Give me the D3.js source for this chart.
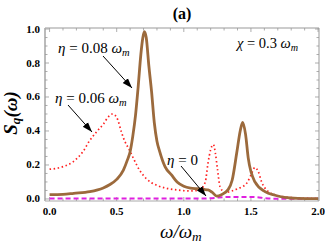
<!DOCTYPE html>
<html>
<head>
<meta charset="utf-8">
<script src="https://cdn.jsdelivr.net/npm/d3@7"></script>
</head>
<body style="margin:0; background:#fff">
<svg id="chart" width="325" height="243"></svg>
<script>
// omega / omega_m sample points and S_q values
var omegaB = [0, 0.1, 0.18, 0.3, 0.4, 0.45, 0.5, 0.55, 0.58, 0.6, 0.62, 0.64, 0.66, 0.68, 0.695, 0.706, 0.72, 0.74, 0.76, 0.78, 0.8, 0.82, 0.86, 0.91, 0.95, 1.0, 1.05, 1.1, 1.15, 1.18, 1.21, 1.245, 1.28, 1.33, 1.36, 1.394, 1.42, 1.438, 1.46, 1.48, 1.53, 1.605, 1.68, 1.75, 1.85, 2.0];
var sB     = [0.025, 0.027, 0.033, 0.043, 0.065, 0.085, 0.115, 0.17, 0.23, 0.278, 0.37, 0.49, 0.66, 0.85, 0.95, 0.984, 0.95, 0.78, 0.63, 0.45, 0.34, 0.28, 0.19, 0.14, 0.10, 0.075, 0.064, 0.06, 0.056, 0.053, 0.04, 0.017, 0.025, 0.055, 0.11, 0.27, 0.40, 0.45, 0.38, 0.24, 0.10, 0.043, 0.022, 0.01, 0.004, 0.002];

var omegaR = [0, 0.05, 0.1, 0.177, 0.25, 0.3, 0.35, 0.4, 0.44, 0.47, 0.5, 0.537, 0.55, 0.6, 0.624, 0.67, 0.72, 0.8, 0.87, 0.95, 1.05, 1.12, 1.16, 1.18, 1.2, 1.22, 1.235, 1.25, 1.27, 1.307, 1.35, 1.4, 1.468, 1.5, 1.53, 1.555, 1.58, 1.63, 1.7, 1.8, 1.9, 2.0];
var sR     = [0.175, 0.18, 0.19, 0.22, 0.28, 0.345, 0.395, 0.44, 0.485, 0.5, 0.48, 0.39, 0.36, 0.28, 0.24, 0.17, 0.12, 0.08, 0.063, 0.053, 0.047, 0.055, 0.1, 0.21, 0.29, 0.32, 0.27, 0.18, 0.072, 0.037, 0.045, 0.06, 0.092, 0.14, 0.185, 0.16, 0.10, 0.043, 0.02, 0.008, 0.004, 0.002];

var omegaM = [0, 0.5, 1.0, 1.15, 1.2, 1.25, 1.3, 1.4, 1.5, 1.55, 1.6, 1.65, 2.0];
var sM     = [0.002, 0.002, 0.002, 0.002, 0.004, 0.008, 0.011, 0.012, 0.012, 0.01, 0.005, 0.002, 0.001];

var xTicks = [0, 0.5, 1.0, 1.5, 2.0];
var yTicks = [0, 0.2, 0.4, 0.6, 0.8, 1.0];

var serif = "'Liberation Serif'";

var svg = d3.select("#chart");

var x = d3.scaleLinear().domain([-0.034, 2.007]).range([45, 319]);
var y = d3.scaleLinear().domain([-0.012, 1.006]).range([201, 28]);

function zipData(xs, ys) {
  return xs.map(function(d, i) { return { w: d, s: ys[i] }; });
}

var line = d3.line()
  .x(function(d) { return x(d.w); })
  .y(function(d) { return y(d.s); })
  .curve(d3.curveMonotoneX);

// frame
var frame = svg.append("g");
frame.append("line").attr("x1", 45).attr("x2", 319).attr("y1", 28).attr("y2", 28)
  .attr("stroke", "#999").attr("stroke-width", 1);
frame.append("line").attr("x1", 319).attr("x2", 319).attr("y1", 28).attr("y2", 201)
  .attr("stroke", "#999").attr("stroke-width", 1);
frame.append("line").attr("x1", 45).attr("x2", 319).attr("y1", 201).attr("y2", 201)
  .attr("stroke", "#aaa").attr("stroke-width", 1);
frame.append("line").attr("x1", 45).attr("x2", 45).attr("y1", 28).attr("y2", 201)
  .attr("stroke", "#bbb").attr("stroke-width", 2);

// ticks
var xMinor = d3.range(0, 2.001, 0.1);
var yMinor = d3.range(0, 1.001, 0.05);
var tg = svg.append("g").attr("stroke", "#999").attr("stroke-width", 0.8);
xMinor.forEach(function(v) {
  var major = Math.abs(v * 2 - Math.round(v * 2)) < 1e-6;
  var len = major ? 4 : 2.5;
  tg.append("line").attr("x1", x(v)).attr("x2", x(v)).attr("y1", 28).attr("y2", 28 + len);
  tg.append("line").attr("x1", x(v)).attr("x2", x(v)).attr("y1", 201).attr("y2", 201 - len);
});
yMinor.forEach(function(v) {
  var major = Math.abs(v * 5 - Math.round(v * 5)) < 1e-6;
  var len = major ? 4 : 2.5;
  tg.append("line").attr("x1", 45).attr("x2", 45 + len).attr("y1", y(v)).attr("y2", y(v));
  tg.append("line").attr("x1", 319).attr("x2", 319 - len).attr("y1", y(v)).attr("y2", y(v));
});

// tick labels
svg.append("g").selectAll("text").data(xTicks).enter().append("text")
  .attr("font-family", "Liberation Serif").style("font-family", serif)
  .attr("font-weight", "bold").attr("font-size", 11)
  .attr("x", function(d) { return x(d); })
  .attr("y", 215)
  .attr("text-anchor", "middle")
  .text(function(d) { return d.toFixed(1); });

svg.append("g").selectAll("text").data(yTicks).enter().append("text")
  .attr("font-family", "Liberation Serif").style("font-family", serif)
  .attr("font-weight", "bold").attr("font-size", 11)
  .attr("x", 40)
  .attr("y", function(d) { return y(d) + 3.5; })
  .attr("text-anchor", "end")
  .text(function(d) { return d.toFixed(1); });

// curves
svg.append("path").datum(zipData(omegaM, sM))
  .attr("d", line).attr("fill", "none")
  .attr("stroke", "#e020e0").attr("stroke-width", 2).attr("stroke-dasharray", "5,3");

svg.append("path").datum(zipData(omegaR, sR))
  .attr("d", line).attr("fill", "none")
  .attr("stroke", "#ff2020").attr("stroke-width", 1.7).attr("stroke-dasharray", "1.5,2.6");

svg.append("path").datum(zipData(omegaB, sB))
  .attr("d", line).attr("fill", "none")
  .attr("stroke", "#9c6a3c").attr("stroke-width", 2.8);

// arrows
svg.append("defs").append("marker")
  .attr("id", "head")
  .attr("viewBox", "0 0 10 10")
  .attr("refX", 10).attr("refY", 5)
  .attr("markerWidth", 10).attr("markerHeight", 10)
  .attr("markerUnits", "userSpaceOnUse")
  .attr("orient", "auto")
  .append("path").attr("d", "M0,1.5 L10,5 L0,8.5 Z").attr("fill", "#000");

var arrows = [[103, 56, 132, 88], [68, 105, 92, 132], [181, 166, 206, 196]];
svg.append("g").selectAll("line").data(arrows).enter().append("line")
  .attr("x1", function(d) { return d[0]; })
  .attr("y1", function(d) { return d[1]; })
  .attr("x2", function(d) { return d[2]; })
  .attr("y2", function(d) { return d[3]; })
  .attr("stroke", "#000").attr("stroke-width", 1)
  .attr("marker-end", "url(#head)");

// annotations: one text element per piece, laid out side by side
function label(parent, xp, yp, parts, size, bold) {
  var cx = xp;
  parts.forEach(function(p) {
    var fs = p.sub ? size * 0.7 : size;
    var t = parent.append("text")
      .attr("x", cx).attr("y", yp + (p.sub ? 3 : 0))
      .attr("font-family", "Liberation Serif").style("font-family", serif)
      .attr("font-size", fs)
      .text(p.t);
    if (p.i) t.attr("font-style", "italic");
    if (bold) t.attr("font-weight", "bold");
    cx += t.node().getComputedTextLength();
  });
  return cx - xp;
}

label(svg, 58, 53, [{ t: "η", i: 1 }, { t: "\u00a0=\u00a00.08\u00a0" }, { t: "ω", i: 1 }, { t: "m", i: 1, sub: 1 }], 15);
label(svg, 55, 103, [{ t: "η", i: 1 }, { t: "\u00a0=\u00a00.06\u00a0" }, { t: "ω", i: 1 }, { t: "m", i: 1, sub: 1 }], 15);
label(svg, 237, 48, [{ t: "χ", i: 1 }, { t: "\u00a0=\u00a00.3\u00a0" }, { t: "ω", i: 1 }, { t: "m", i: 1, sub: 1 }], 14.5);
label(svg, 167, 165, [{ t: "η", i: 1 }, { t: "\u00a0=\u00a00" }], 15);

svg.append("text").attr("x", 182).attr("y", 19)
  .attr("font-family", "Liberation Serif").style("font-family", serif)
  .attr("text-anchor", "middle").attr("font-weight", "bold").attr("font-size", 16)
  .text("(a)");

label(svg, 160, 238, [{ t: "ω/ω", i: 1 }, { t: "m", i: 1, sub: 1 }], 19);

// rotated y label, centred after measuring
var ylg = svg.append("g");
var w = label(ylg, 0, 0, [{ t: "S", i: 1 }, { t: "q", i: 1, sub: 1 }, { t: "(ω)", i: 1 }], 19, true);
ylg.attr("transform", "translate(17," + (113 + w / 2) + ") rotate(-90)");
</script>
</body>
</html>
